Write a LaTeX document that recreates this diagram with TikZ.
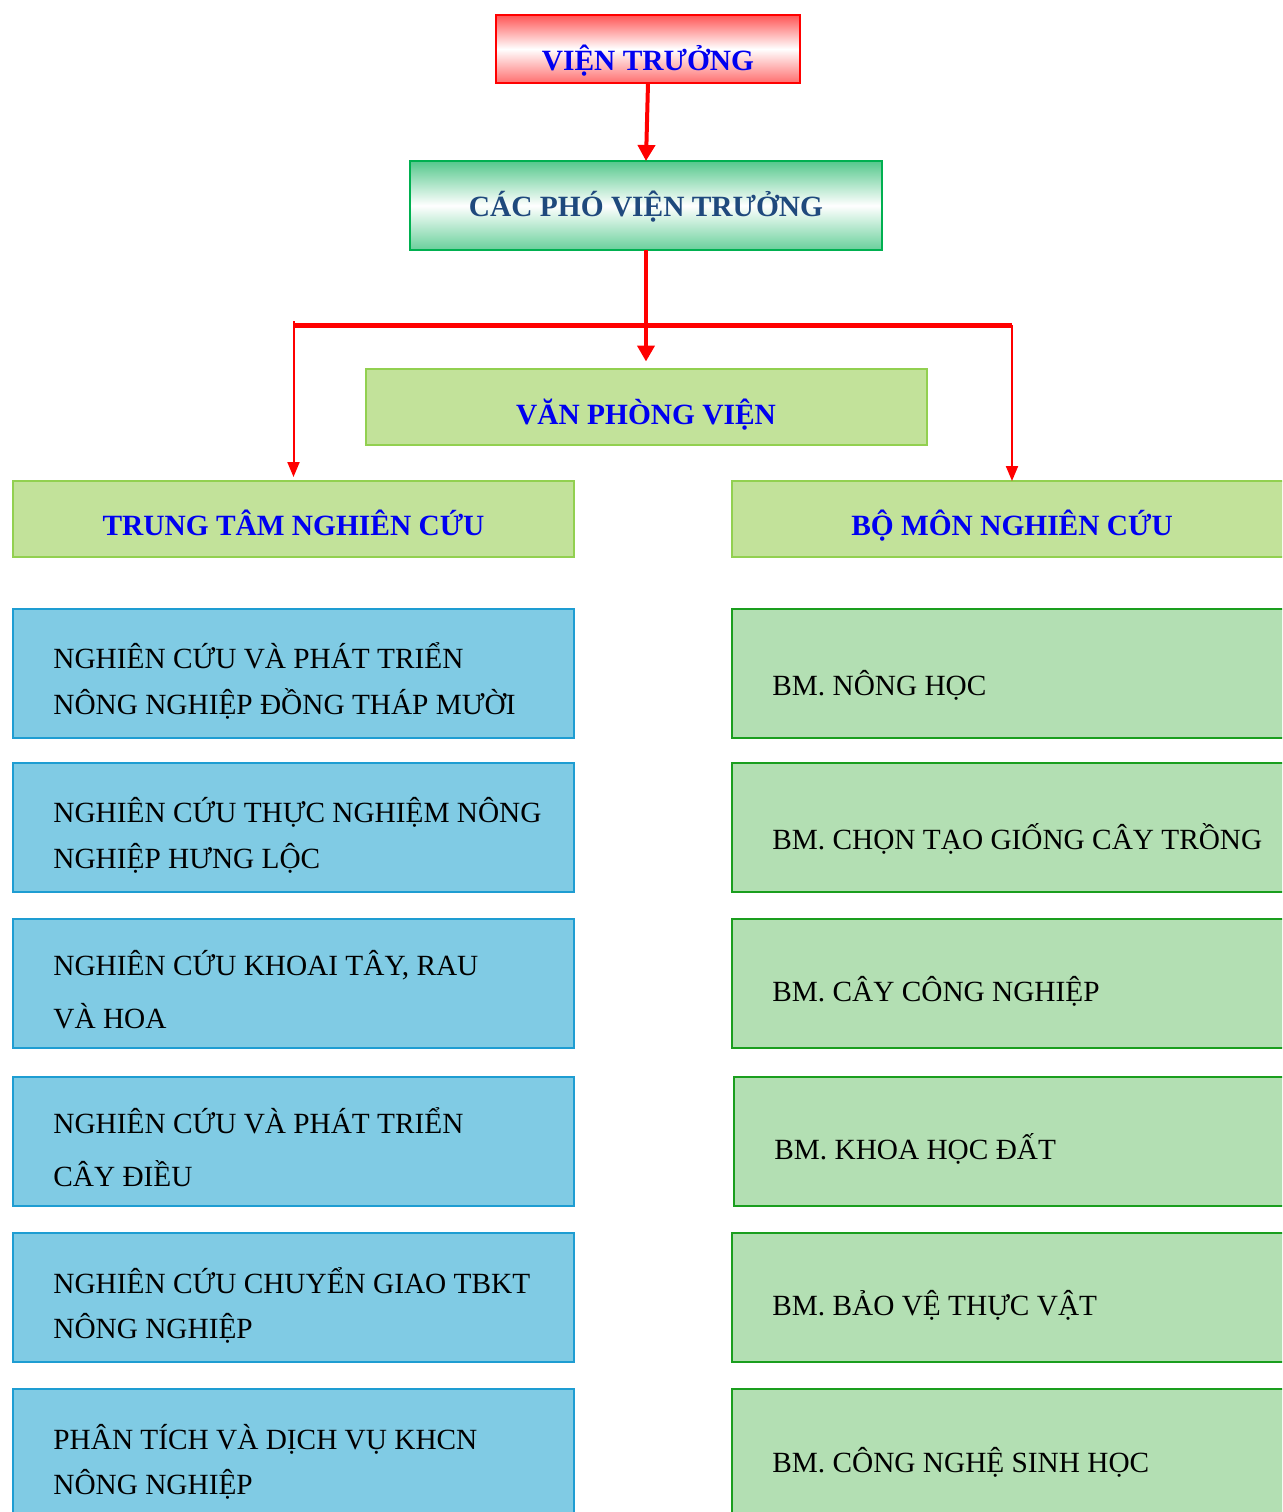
\documentclass[tikz,border=0pt]{standalone}
\usepackage{fontspec}
\setmainfont{Liberation Serif}
\usetikzlibrary{arrows.meta}
\definecolor{tblue}{RGB}{0,0,240}
\definecolor{tdark}{RGB}{31,73,125}
\definecolor{redtop}{RGB}{255,85,85}
\definecolor{redbot}{RGB}{255,110,110}
\definecolor{grtop}{RGB}{85,200,140}
\definecolor{grbot}{RGB}{105,208,155}
\definecolor{grline}{RGB}{0,176,80}
\definecolor{lgfill}{RGB}{194,226,154}
\definecolor{lgline}{RGB}{146,208,80}
\definecolor{lbfill}{RGB}{128,203,228}
\definecolor{lbline}{RGB}{30,157,210}
\definecolor{rgfill}{RGB}{179,223,179}
\definecolor{rgline}{RGB}{26,158,30}
\begin{document}
\begin{tikzpicture}[x=0.5pt,y=-0.5pt,
  box/.style={rectangle,inner sep=0pt,outer sep=0pt},
  vtbox/.style={box,draw=red,line width=1pt,top color=redtop,bottom color=redbot,middle color=white,minimum width=152pt,minimum height=34pt},
  phobox/.style={box,draw=grline,line width=1pt,top color=grtop,bottom color=grbot,middle color=white,minimum width=236pt,minimum height=44.5pt},
  lgbox/.style={box,draw=lgline,line width=1pt,fill=lgfill,minimum width=280.5pt,minimum height=38pt},
  lbbox/.style={box,draw=lbline,line width=1pt,fill=lbfill,minimum width=280.5pt,minimum height=64.5pt},
  rgbox/.style={box,draw=rgline,line width=1pt,fill=rgfill,minimum width=280pt,minimum height=64.5pt},
  ttl/.style={anchor=base,inner sep=0pt,text=tblue,font=\fontsize{14.7}{18}\selectfont\bfseries},
  body/.style={anchor=base west,inner sep=0pt,font=\fontsize{14.65}{17}\selectfont},
  thickarrow/.style={draw=red,line width=2pt,-{Triangle[width=8.5pt,length=8pt]}},
  thinarrow/.style={draw=red,line width=1pt,-{Triangle[width=6pt,length=7.5pt]}},
  barline/.style={draw=red,line width=2.5pt}]
\clip (0,0) rectangle (1282,1512);
\fill[white] (0,0) rectangle (1282,1512);
% top boxes
\node[vtbox] (vt) at (648,49) {};
\node[phobox] (pho) at (646,205.5) {};
\node[lgbox] (vp) at (646,406.5) {};
\node[lgbox] (tt) at (293.5,519) {};
\node[lgbox,minimum width=280pt] (bm) at (1012,519) {};
% titles
\node[ttl] (vtt) at (648,70.5) {VIỆN TRƯỞNG};
\node[ttl,text=tdark] (phot) at (646,216.5) {CÁC PHÓ VIỆN TRƯỞNG};
\node[ttl] (vpt) at (646,424) {VĂN PHÒNG VIỆN};
\node[ttl] (ttt) at (293.5,535) {TRUNG TÂM NGHIÊN CỨU};
\node[ttl] (bmt) at (1012,535) {BỘ MÔN NGHIÊN CỨU};
% connectors
\draw[thickarrow] (vt.south) -- (pho.north);
\coordinate (bL) at (293.5,325);
\coordinate (bR) at (1012,325);
\coordinate (bLtop) at (293.5,321);
\draw[barline] (bL) -- (bR);
\draw[thickarrow,shorten >=3.5pt] (pho.south) -- (vp.north);
\draw[thinarrow,shorten >=2pt] (bLtop) -- (tt.north);
\draw[thinarrow] (bR) -- (bm.north);
% left column
\node[lbbox] (L1) at (293.5,673.5) {};
\node[lbbox] (L2) at (293.5,827.5) {};
\node[lbbox] (L3) at (293.5,983.5) {};
\node[lbbox] (L4) at (293.5,1141.5) {};
\node[lbbox] (L5) at (293.5,1297.5) {};
\node[lbbox] (L6) at (293.5,1453.5) {};
\node[body] (L1a) at (53,668) {NGHIÊN CỨU VÀ PHÁT TRIỂN};
\node[body] (L1b) at (53,714) {NÔNG NGHIỆP ĐỒNG THÁP MƯỜI};
\node[body] (L2a) at (53,822) {NGHIÊN CỨU THỰC NGHIỆM NÔNG};
\node[body] (L2b) at (53,868) {NGHIỆP HƯNG LỘC};
\node[body] (L3a) at (53,975) {NGHIÊN CỨU KHOAI TÂY, RAU};
\node[body] (L3b) at (53,1028) {VÀ HOA};
\node[body] (L4a) at (53,1133) {NGHIÊN CỨU VÀ PHÁT TRIỂN};
\node[body] (L4b) at (53,1186) {CÂY ĐIỀU};
\node[body] (L5a) at (53,1293) {NGHIÊN CỨU CHUYỂN GIAO TBKT};
\node[body] (L5b) at (53,1338) {NÔNG NGHIỆP};
\node[body] (L6a) at (53,1449) {PHÂN TÍCH VÀ DỊCH VỤ KHCN};
\node[body] (L6b) at (53,1494) {NÔNG NGHIỆP};
% right column
\node[rgbox] (R1) at (1012,673.5) {};
\node[rgbox] (R2) at (1012,827.5) {};
\node[rgbox] (R3) at (1012,983.5) {};
\node[rgbox,minimum width=279pt] (R4) at (1013,1141.5) {};
\node[rgbox] (R5) at (1012,1297.5) {};
\node[rgbox] (R6) at (1012,1453.5) {};
\node[body] (R1t) at (772,695) {BM. NÔNG HỌC};
\node[body] (R2t) at (772,849) {BM. CHỌN TẠO GIỐNG CÂY TRỒNG};
\node[body] (R3t) at (772,1001) {BM. CÂY CÔNG NGHIỆP};
\node[body] (R4t) at (774,1159) {BM. KHOA HỌC ĐẤT};
\node[body] (R5t) at (772,1315) {BM. BẢO VỆ THỰC VẬT};
\node[body] (R6t) at (772,1472) {BM. CÔNG NGHỆ SINH HỌC};
\end{tikzpicture}
\end{document}
